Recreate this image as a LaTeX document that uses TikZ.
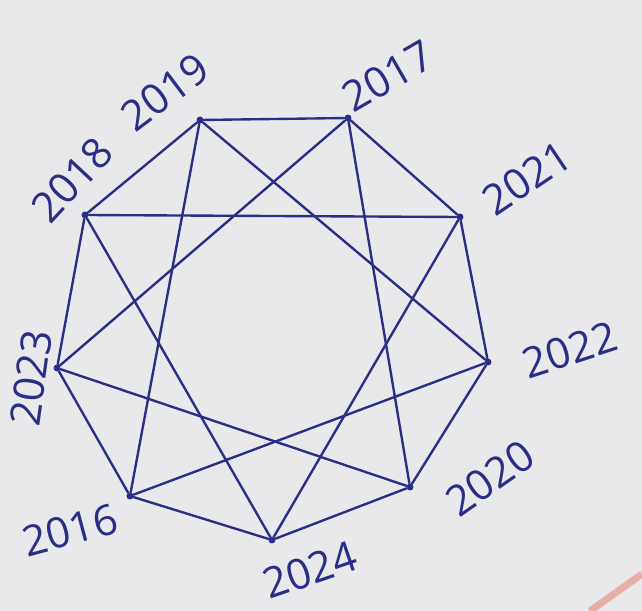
\documentclass[tikz,border=0pt]{standalone}
\usepackage{fontspec}
\setmainfont{Open Sans}
\usepackage{xcolor}
\usepackage{tikz}
\usetikzlibrary{positioning}

\definecolor{ink}{RGB}{42,46,132}
\definecolor{paper}{RGB}{233,233,236}
\definecolor{pencil}{RGB}{232,150,140}

\begin{document}
\begin{tikzpicture}[x=0.02cm, y=-0.02cm,
        vertex/.style={circle, fill=ink, inner sep=1.4pt},
        year/.style={text=ink, inner sep=0pt, font=\fontsize{24}{28}\selectfont},
        edge/.style={draw=ink, line width=1.35pt, line cap=round}]
        \useasboundingbox[fill=paper] (0,0) rectangle (642,611);

        % vertices
        \node[vertex] (v2019) at (200,120) {};
        \node[vertex] (v2017) at (348,118) {};
        \node[vertex] (v2021) at (460,217) {};
        \node[vertex] (v2022) at (488,362) {};
        \node[vertex] (v2020) at (410,487) {};
        \node[vertex] (v2024) at (272,540) {};
        \node[vertex] (v2016) at (130,496) {};
        \node[vertex] (v2023) at (57,368) {};
        \node[vertex] (v2018) at (85,215) {};

        % labels
        \node[year, rotate=37] (l2019) at (165,92) {2019};
        \node[year, rotate=30] (l2017) at (388,76) {2017};
        \node[year, rotate=34] (l2021) at (527,178) {2021};
        \node[year, rotate=18] (l2022) at (570,350) {2022};
        \node[year, rotate=35] (l2020) at (490,478) {2020};
        \node[year, rotate=19] (l2024) at (310,570) {2024};
        \node[year, rotate=15] (l2016) at (70,530) {2016};
        \node[year, rotate=82] (l2023) at (31,378) {2023};
        \node[year, rotate=47] (l2018) at (72,180) {2018};

        % outer cycle
        \draw[edge] (v2019) -- (v2017);
        \draw[edge] (v2017) -- (v2021);
        \draw[edge] (v2021) -- (v2022);
        \draw[edge] (v2022) -- (v2020);
        \draw[edge] (v2020) -- (v2024);
        \draw[edge] (v2024) -- (v2016);
        \draw[edge] (v2016) -- (v2023);
        \draw[edge] (v2023) -- (v2018);
        \draw[edge] (v2018) -- (v2019);

        % chords
        \draw[edge] (v2018) -- (v2021);
        \draw[edge] (v2019) -- (v2022);
        \draw[edge] (v2019) -- (v2016);
        \draw[edge] (v2018) -- (v2024);
        \draw[edge] (v2017) -- (v2023);
        \draw[edge] (v2017) -- (v2020);
        \draw[edge] (v2021) -- (v2024);
        \draw[edge] (v2022) -- (v2016);
        \draw[edge] (v2023) -- (v2020);

        % pencil stroke in the corner
        \draw[pencil, line width=4pt, opacity=0.7] (590,611) -- (642,574);
    \end{tikzpicture}
\end{document}
